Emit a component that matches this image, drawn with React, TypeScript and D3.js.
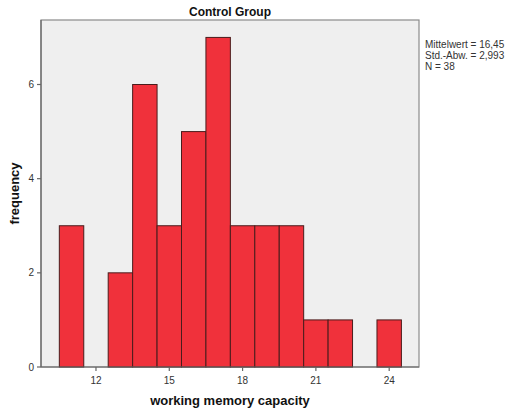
import React from "react";
import * as d3 from "d3";

// Histogram bins (centered on integer scores) and their counts
const binCenters = [11, 13, 14, 15, 16, 17, 18, 19, 20, 21, 22, 24];
const counts = [3, 2, 6, 3, 5, 7, 3, 3, 3, 1, 1, 1];
const xTicks = [12, 15, 18, 21, 24];
const yTicks = [0, 2, 4, 6];
const statsLines = ["Mittelwert = 16,45", "Std.-Abw. = 2,993", "N = 38"];

const W = 508;
const H = 411;
const left = 41;
const right = 419;
const top = 20;
const bottom = 367;

export default function App() {
  const x = d3.scaleLinear().domain([9.75, 25.22]).range([left, right]);
  const y = d3.scaleLinear().domain([0, 7.37]).range([bottom, top]);
  const font = "'Liberation Sans', Arial, sans-serif";

  return (
    <svg
      width={W}
      height={H}
      style={{ position: "absolute", left: 0, top: 0, background: "#fff" }}
      fontFamily={font}
    >
      <rect x={left} y={top} width={right - left} height={bottom - top} fill="#efefef" stroke="#8a8a8a" strokeWidth={1.2} />
      {binCenters.map((c, i) => (
        <rect
          key={c}
          x={x(c - 0.5)}
          y={y(counts[i])}
          width={x(c + 0.5) - x(c - 0.5)}
          height={y(0) - y(counts[i])}
          fill="#f0313b"
          stroke="#4a1c1c"
          strokeWidth={1}
        />
      ))}
      {/* axes */}
      <line x1={left} x2={left} y1={top} y2={bottom} stroke="#666" strokeWidth={1.2} />
      <line x1={left} x2={right} y1={bottom} y2={bottom} stroke="#666" strokeWidth={1.2} />
      {yTicks.map((t) => (
        <g key={t}>
          <line x1={left - 4} x2={left} y1={y(t)} y2={y(t)} stroke="#666" strokeWidth={1.2} />
          <text x={left - 7} y={y(t)} dy="0.35em" textAnchor="end" fontSize={10} fill="#333">
            {t}
          </text>
        </g>
      ))}
      {xTicks.map((t) => (
        <g key={t}>
          <line x1={x(t)} x2={x(t)} y1={bottom} y2={bottom + 4} stroke="#666" strokeWidth={1.2} />
          <text x={x(t)} y={bottom + 17} textAnchor="middle" fontSize={10} fill="#333">
            {t}
          </text>
        </g>
      ))}
      <text x={230} y={16} textAnchor="middle" fontSize={12} fontWeight="bold" fill="#111">
        Control Group
      </text>
      <text x={230} y={405} textAnchor="middle" fontSize={13} fontWeight="bold" fill="#111">
        working memory capacity
      </text>
      <text
        transform={`translate(19,${(top + bottom) / 2}) rotate(-90)`}
        textAnchor="middle"
        fontSize={13}
        fontWeight="bold"
        fill="#111"
      >
        frequency
      </text>
      {statsLines.map((s, i) => (
        <text key={s} x={425} y={48 + i * 11} fontSize={10} fill="#333">
          {s}
        </text>
      ))}
    </svg>
  );
}
